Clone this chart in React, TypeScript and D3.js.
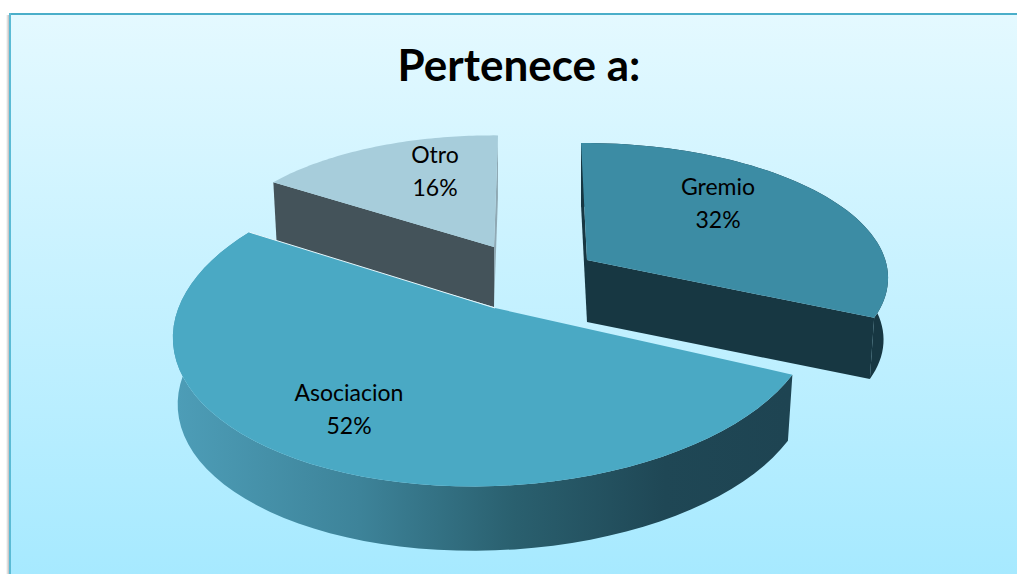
import React from "react";
import * as d3 from "d3";

const title = "Pertenece a:";
const categories = ["Gremio", "Asociacion", "Otro"];
const shares = [32, 52, 16];

const WIDTH = 1017, HEIGHT = 574;

// projection of each slice's unit disc on the page
const views = [
  { ax: 587, ay: 260, a: 298, b: 6.7, d: -1, e: 131, p: 0.12, depth: 62, top: "#3c8ca4", labelX: 718, labelY: 187 },
  { ax: 495, ay: 308, a: 318, b: -13, d: -4, e: 157, p: 0.12, depth: 67, top: "#4aa9c4", labelX: 349, labelY: 393 },
  { ax: 494, ay: 247, a: 281, b: -4.5, d: 2.4, e: 125, p: 0.12, depth: 60, top: "#a7cddb", labelX: 435, labelY: 155 },
];
type View = (typeof views)[number];

const project = (v: View, t: number, dz = 0): [number, number] => {
  const X = Math.sin(t), Y = -Math.cos(t), w = 1 - v.p * Y;
  const k = dz ? 0.985 : 1;
  return [v.ax + k * (v.a * X + v.b * Y) / w, v.ay + (v.d * X + v.e * Y) / w * k + dz];
};

const line = d3.line();

const arcPoints = (v: View, t0: number, t1: number, dz = 0) =>
  d3.range(0, 61).map((i) => project(v, t0 + ((t1 - t0) * i) / 60, dz));

export default function App() {
  const arcs = d3.pie<number>().sort(null)(shares);
  const parts = arcs.map((arc, i) => {
    const v = views[i];
    const outer = arcPoints(v, arc.startAngle, arc.endAngle);
    const outerLow = arcPoints(v, arc.startAngle, arc.endAngle, v.depth);
    const apex: [number, number] = [v.ax, v.ay];
    const apexLow: [number, number] = [v.ax, v.ay + v.depth];
    return { v, i, outer, outerLow, apex, apexLow };
  });
  const [gremio, asociacion, otro] = parts;

  const topPath = (s: typeof gremio) => line([s.apex, ...s.outer])! + "Z";
  const wallPath = (s: typeof gremio) => line([...s.outer, ...[...s.outerLow].reverse()])! + "Z";
  const cutStart = (s: typeof gremio) => line([s.apex, s.outer[0], s.outerLow[0], s.apexLow])! + "Z";
  const cutEnd = (s: typeof gremio) =>
    line([s.apex, s.outer[60], s.outerLow[60], s.apexLow])! + "Z";

  return (
    <svg width={WIDTH} height={HEIGHT} style={{ position: "absolute", left: 0, top: 0, display: "block" }}>
      <defs>
        <linearGradient id="bg" x1="0" y1="0" x2="0" y2="1">
          <stop offset="0" stopColor="#e4f9ff" />
          <stop offset="1" stopColor="#a5e9ff" />
        </linearGradient>
        <linearGradient id="wallA" gradientUnits="userSpaceOnUse" x1="177" y1="0" x2="787" y2="0">
          <stop offset="0" stopColor="#4d9db7" />
          <stop offset="0.3" stopColor="#3d8399" />
          <stop offset="0.55" stopColor="#2a606f" />
          <stop offset="0.8" stopColor="#1f4755" />
          <stop offset="1" stopColor="#1e4452" />
        </linearGradient>
        <linearGradient id="shadow" x1="0" y1="0" x2="1" y2="0">
          <stop offset="0" stopColor="#ffffff" />
          <stop offset="1" stopColor="#bdbdbd" />
        </linearGradient>
      </defs>
      <rect x={0} y={0} width={WIDTH} height={HEIGHT} fill="#ffffff" />
      <rect x={6} y={15} width={3} height={HEIGHT - 15} fill="url(#shadow)" />
      <rect x={9} y={15} width={WIDTH} height={HEIGHT} fill="url(#bg)" />
      <rect x={9} y={13} width={WIDTH - 9} height={2} fill="#4aaec9" />
      <rect x={9} y={13} width={2} height={HEIGHT - 13} fill="#5bbbd5" />

      <text x={519} y={81} textAnchor="middle" fontFamily="Lato" fontWeight={700} fontSize={44} fill="#000">
        {title}
      </text>

      {/* Otro */}
      <path d={cutStart(otro)} fill="#44535a" />
      <path d={cutEnd(otro)} fill="#8fa9b4" />
      <path d={topPath(otro)} fill={otro.v.top} />

      {/* Gremio */}
      <path d={cutStart(gremio)} fill="#173742" />
      <path d={wallPath(gremio)} fill="#173742" />
      <path d={cutEnd(gremio)} fill="#173742" />
      <path d={topPath(gremio)} fill={gremio.v.top} />

      {/* Asociacion */}
      <path d={wallPath(asociacion)} fill="url(#wallA)" />
      <path d={cutEnd(asociacion)} fill="#1e4452" opacity={0} />
      <path d={topPath(asociacion)} fill={asociacion.v.top} />
      <path d={line([asociacion.outer[60], asociacion.apex])!} fill="none" stroke="#e6f7fc" strokeWidth={1} />

      {parts.map((s) => (
        <text key={s.i} textAnchor="middle" fontFamily="Lato" fontSize={23} fill="#000">
          <tspan x={s.v.labelX} y={s.v.labelY + 8}>{categories[s.i]}</tspan>
          <tspan x={s.v.labelX} y={s.v.labelY + 41}>{shares[s.i]}%</tspan>
        </text>
      ))}
    </svg>
  );
}
